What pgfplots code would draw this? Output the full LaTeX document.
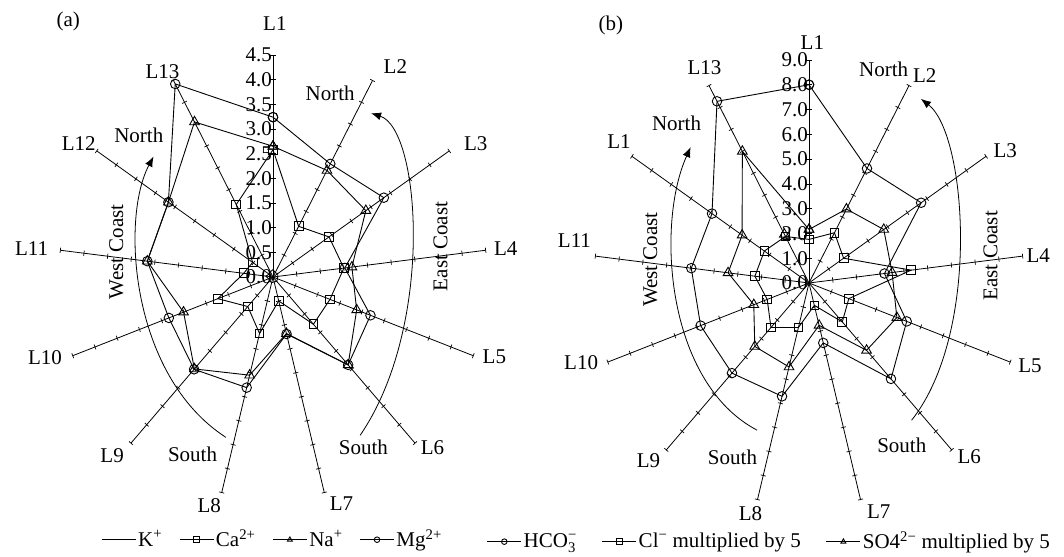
\documentclass[border=0pt]{standalone}
\usepackage{pgfplots}
\pgfplotsset{compat=1.18}
\usepackage{amsmath}
\usepackage{fontspec}
\setmainfont{Liberation Serif}
\usetikzlibrary{arrows.meta}
\begin{document}
\fontsize{21bp}{25bp}\selectfont
\begin{tikzpicture}
\useasboundingbox (0bp,0bp) rectangle (1064bp,557bp);
\pgfplotsset{
  spoke/.style={data cs=polar, black, line width=0.8pt, forget plot},
  tk/.style={data cs=polar, black, only marks, mark=|, mark size=2.6pt, mark options={rotate=#1, line width=0.7pt}, forget plot},
  ser/.style={data cs=polar, black, line width=0.9pt, mark options={solid, line width=0.9pt}},
}
% ---------------- panel (a) ----------------
\begin{axis}[
  at={(273bp,280bp)}, anchor=center,
  hide axis, clip=false,
  x=47.6bp, y=49.33bp,
  xmin=-5.6, xmax=5.6, ymin=-5.6, ymax=5.6,
  legend columns=4,
  legend style={draw=none, fill=none, at={(0.4991,0.0245)}, anchor=center,
    font=\fontsize{21bp}{25bp}\selectfont, inner sep=0pt,
    /tikz/every even column/.append style={column sep=15bp}},
  legend image code/.code={\draw[mark repeat=2,mark phase=2,#1,mark size=2.8pt] plot coordinates {(0bp,0bp) (17bp,0bp) (34bp,0bp)};},
]
\pgfplotsinvokeforeach{90,62.31,34.62,6.92,-20.77,-48.46,-76.15,-103.85,-131.54,-159.23,173.08,145.38,117.69}{
  \addplot[spoke] coordinates {(#1,0) (#1,4.5)};
  \addplot[tk=#1] coordinates {(#1,0.5) (#1,1) (#1,1.5) (#1,2) (#1,2.5) (#1,3) (#1,3.5) (#1,4) (#1,4.5)};
}
% K+
\addplot[ser] coordinates {(90,0.15) (62.31,0.10) (34.62,0.12) (6.92,0.10) (-20.77,0.10) (-48.46,0.12) (-76.15,0.10) (-103.85,0.12) (-131.54,0.10) (-159.23,0.10) (173.08,0.15) (145.38,0.10) (117.69,0.12) (90,0.15)};
\addlegendentry{K\textsuperscript{+}}
% Ca2+
\addplot[ser, mark=square, mark size=4.4pt] coordinates {(90,2.58) (62.31,1.16) (34.62,1.43) (6.92,1.50) (-20.77,1.28) (-48.46,1.28) (-76.15,0.50) (-103.85,1.18) (-131.54,0.80) (-159.23,1.24) (173.08,0.62) (145.38,0.52) (117.69,1.66) (90,2.58)};
\addlegendentry{Ca\textsuperscript{2+}}
% Na+
\addplot[ser, mark=triangle, mark size=5.6pt] coordinates {(90,2.65) (62.31,2.44) (34.62,2.37) (6.92,1.67) (-20.77,1.88) (-48.46,2.38) (-76.15,1.18) (-103.85,2.05) (-131.54,2.49) (-159.23,2.01) (173.08,2.66) (145.38,2.67) (117.69,3.55) (90,2.65)};
\addlegendentry{Na\textsuperscript{+}}
% Mg2+
\addplot[ser, mark=o, mark size=4.8pt] coordinates {(90,3.24) (62.31,2.59) (34.62,2.83) (6.92,1.52) (-20.77,2.19) (-48.46,2.38) (-76.15,1.19) (-103.85,2.31) (-131.54,2.50) (-159.23,2.34) (173.08,2.66) (145.38,2.67) (117.69,4.42) (90,3.24)};
\addlegendentry{Mg\textsuperscript{2+}}
% tick labels on L1
\pgfplotsinvokeforeach{0.0,0.5,1.0,1.5,2.0,2.5,3.0,3.5,4.0,4.5}{
  \node[anchor=east, inner sep=1bp] at (axis cs:0,#1) {#1};
}
% spoke labels
\node at (axis cs:0.04,5.14) {L1};
\node at (axis cs:2.57,4.26) {L2};
\node at (axis cs:4.26,2.71) {L3};
\node at (axis cs:4.89,0.58) {L4};
\node at (axis cs:4.65,-1.62) {L5};
\node at (axis cs:3.35,-3.45) {L6};
\node at (axis cs:1.44,-4.60) {L7};
\node at (axis cs:-1.34,-4.63) {L8};
\node at (axis cs:-3.38,-3.62) {L9};
\node at (axis cs:-4.79,-1.64) {L10};
\node at (axis cs:-5.07,0.58) {L11};
\node at (axis cs:-4.08,2.71) {L12};
\node at (axis cs:-2.32,4.16) {L13};
\node at (axis cs:-4.30,5.18) {(a)};
\node at (axis cs:-2.82,2.88) {North};
\node at (axis cs:1.20,3.73) {North};
\node at (axis cs:-1.69,-3.59) {South};
\node at (axis cs:1.90,-3.45) {South};
\node[rotate=90] at (axis cs:-3.29,0.51) {West Coast};
\node[rotate=90] at (axis cs:3.52,0.62) {East Coast};
\draw[line width=0.8pt, -{Latex[length=10bp,width=8bp]}] (axis cs:-0.99,-3.25) .. controls (axis cs:-3.0,-2.0) and (axis cs:-3.2,1.2) .. (axis cs:-2.51,2.44);
\draw[line width=0.8pt, -{Latex[length=10bp,width=8bp]}] (axis cs:1.83,-3.21) .. controls (axis cs:3.4,-1.0) and (axis cs:3.1,3.0) .. (axis cs:2.06,3.32);
\end{axis}
% ---------------- panel (b) ----------------
\begin{axis}[
  at={(809bp,274bp)}, anchor=center,
  hide axis, clip=false,
  x=23.91bp, y=24.78bp,
  xmin=-11.2, xmax=11.2, ymin=-11.2, ymax=11.2,
  legend columns=3,
  legend style={draw=none, fill=none, at={(0.426,0.034)}, anchor=center,
    font=\fontsize{21bp}{25bp}\selectfont, inner sep=0pt,
    /tikz/every even column/.append style={column sep=23bp}},
  legend image code/.code={\draw[mark repeat=2,mark phase=2,#1,mark size=2.8pt] plot coordinates {(0bp,0bp) (17bp,0bp) (34bp,0bp)};},
]
\pgfplotsinvokeforeach{90,62.31,34.62,6.92,-20.77,-48.46,-76.15,-103.85,-131.54,-159.23,173.08,145.38,117.69}{
  \addplot[spoke] coordinates {(#1,0) (#1,9)};
  \addplot[tk=#1] coordinates {(#1,1) (#1,2) (#1,3) (#1,4) (#1,5) (#1,6) (#1,7) (#1,8) (#1,9)};
}
% HCO3-
\addplot[ser, mark=o, mark size=4.8pt] coordinates {(90,8.00) (62.31,5.22) (34.62,5.70) (6.92,3.18) (-20.77,4.37) (-48.46,5.17) (-76.15,2.49) (-103.85,4.71) (-131.54,4.86) (-159.23,4.85) (173.08,4.96) (145.38,4.93) (117.69,8.28) (90,8.00)};
\addlegendentry{HCO$^{\text{−}}_{\text{3}}$}
% Cl- x5
\addplot[ser, mark=square, mark size=4.4pt] coordinates {(90,1.76) (62.31,2.29) (34.62,1.76) (6.92,4.30) (-20.77,1.78) (-48.46,2.10) (-76.15,0.93) (-103.85,1.85) (-131.54,2.40) (-159.23,1.87) (173.08,2.28) (145.38,2.27) (117.69,2.12) (90,1.76)};
\addlegendentry{Cl\textsuperscript{−} multiplied by 5}
% SO4 2- x5
\addplot[ser, mark=triangle, mark size=5.6pt] coordinates {(90,2.16) (62.31,3.37) (34.62,3.80) (6.92,3.50) (-20.77,3.93) (-48.46,3.63) (-76.15,1.76) (-103.85,3.49) (-131.54,3.42) (-159.23,2.47) (173.08,3.41) (145.38,3.40) (117.69,6.00) (90,2.16)};
\addlegendentry{SO4\textsuperscript{2−} multiplied by 5}
\addplot[data cs=polar, black, only marks, mark=triangle, mark size=5.6pt, mark options={line width=0.9pt}, forget plot] coordinates {(117.69,2.22)};
\pgfplotsinvokeforeach{0.0,1.0,2.0,3.0,4.0,5.0,6.0,7.0,8.0,9.0}{
  \node[anchor=east, inner sep=1bp] at (axis cs:0,#1) {#1};
}
\node at (axis cs:0.14,9.72) {L1};
\node at (axis cs:4.84,8.37) {L2};
\node at (axis cs:8.21,5.35) {L3};
\node at (axis cs:9.59,1.12) {L4};
\node at (axis cs:9.24,-3.32) {L5};
\node at (axis cs:6.70,-7.02) {L6};
\node at (axis cs:2.92,-9.23) {L7};
\node at (axis cs:-2.45,-9.30) {L8};
\node at (axis cs:-6.71,-7.18) {L9};
\node at (axis cs:-9.53,-3.23) {L10};
\node at (axis cs:-9.81,1.72) {L11};
\node at (axis cs:-7.95,5.69) {L1};
\node at (axis cs:-4.37,8.71) {L13};
\node at (axis cs:-8.29,10.39) {(b)};
\node at (axis cs:-5.54,6.45) {North};
\node at (axis cs:3.12,8.64) {North};
\node at (axis cs:-3.20,-7.02) {South};
\node at (axis cs:3.88,-6.55) {South};
\node[rotate=90] at (axis cs:-6.64,0.95) {West Coast};
\node[rotate=90] at (axis cs:7.59,1.10) {East Coast};
\draw[line width=0.8pt, -{Latex[length=10bp,width=8bp]}] (axis cs:-2.17,-5.94) .. controls (axis cs:-6.0,-4.0) and (axis cs:-6.4,2.4) .. (axis cs:-4.95,5.48);
\draw[line width=0.8pt, -{Latex[length=10bp,width=8bp]}] (axis cs:4.29,-5.54) .. controls (axis cs:7.2,-2.0) and (axis cs:6.6,6.0) .. (axis cs:4.68,7.43);
\end{axis}
\end{tikzpicture}
\end{document}
